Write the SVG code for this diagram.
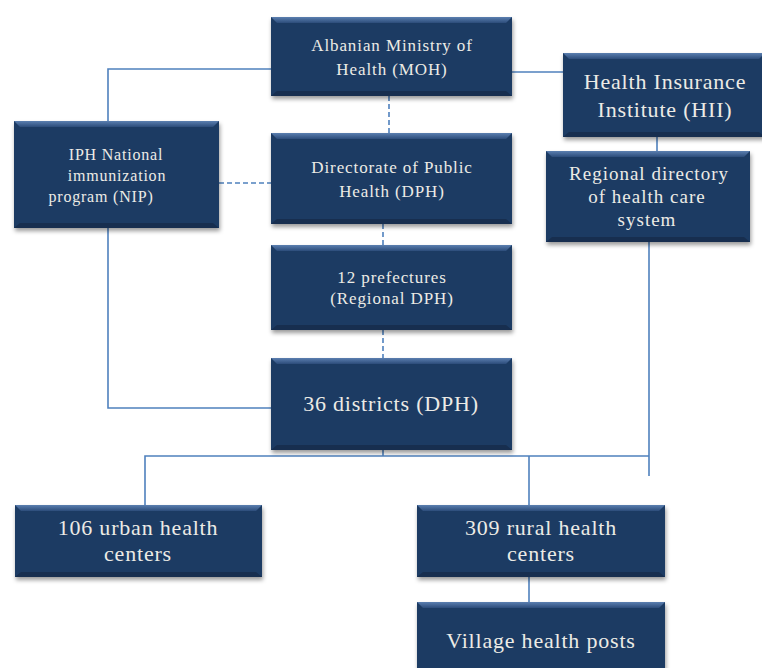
<svg xmlns="http://www.w3.org/2000/svg" width="762" height="668" viewBox="0 0 762 668">
<defs>
<filter id="sh" x="-10%" y="-10%" width="125%" height="130%">
<feDropShadow dx="1" dy="3" stdDeviation="2" flood-color="#000" flood-opacity="0.4"/>
</filter>
<linearGradient id="top" x1="0" y1="0" x2="0" y2="1">
<stop offset="0" stop-color="#5b7fb0"/>
<stop offset="1" stop-color="#2c4c7a"/>
</linearGradient>
</defs>
<style>
.box{fill:#1f3b63;filter:url(#sh)}
.bt{fill:url(#top)}
.bb{fill:#172e4f}
text{font-family:"Liberation Serif","DejaVu Serif",serif;fill:#ecebe6;text-anchor:middle}
.s15{font-size:17px;letter-spacing:0.9px}
.s16{font-size:16px;letter-spacing:0.8px}
.s18{font-size:19px;letter-spacing:1px}
.s20{font-size:22px;letter-spacing:0.8px}
.c{stroke:#4f81bd;stroke-width:1.6;fill:none}
.d{stroke:#4f81bd;stroke-width:1.6;fill:none;stroke-dasharray:5 3}
</style>
<g id="connectors">
<polyline class="c" points="271,69 108,69 108,121"/>
<line class="c" x1="512" y1="72" x2="563" y2="72"/>
<line class="d" x1="389" y1="96" x2="389" y2="133"/>
<line class="d" x1="219" y1="183" x2="271" y2="183"/>
<line class="d" x1="383" y1="224" x2="383" y2="245"/>
<line class="d" x1="383" y1="330" x2="383" y2="358"/>
<polyline class="c" points="108,228 108,408 271,408"/>
<line class="c" x1="657" y1="137" x2="657" y2="151"/>
<line class="c" x1="649" y1="242" x2="649" y2="476"/>
<line class="c" x1="383" y1="450" x2="383" y2="456"/>
<polyline class="c" points="145,505 145,456 649,456"/>
<line class="c" x1="529" y1="456" x2="529" y2="505"/>
<line class="c" x1="529" y1="577" x2="529" y2="602"/>
</g>
<g id="moh">
<rect class="box" x="271" y="17" width="241" height="79"/>
<polygon class="bt" points="271,17 512,17 506,23 277,23"/>
<polygon class="bb" points="271,96 512,96 506,91 277,91"/>
<text class="s15" x="392" y="51">Albanian Ministry of</text>
<text class="s15" x="392" y="75">Health (MOH)</text>
</g>
<g id="hii">
<rect class="box" x="563" y="53" width="202" height="84"/>
<polygon class="bt" points="563,53 765,53 759,59 569,59"/>
<polygon class="bb" points="563,137 765,137 759,132 569,132"/>
<text class="s20" x="665" y="89">Health Insurance</text>
<text class="s20" x="665" y="117">Institute (HII)</text>
</g>
<g id="nip">
<rect class="box" x="14" y="121" width="205" height="107"/>
<polygon class="bt" points="14,121 219,121 213,127 20,127"/>
<polygon class="bb" points="14,228 219,228 213,223 20,223"/>
<text class="s16" x="116" y="160">IPH National</text>
<text class="s16" x="117" y="181">immunization</text>
<text class="s16" x="101" y="202">program (NIP)</text>
</g>
<g id="dph">
<rect class="box" x="271" y="133" width="241" height="91"/>
<polygon class="bt" points="271,133 512,133 506,139 277,139"/>
<polygon class="bb" points="271,224 512,224 506,219 277,219"/>
<text class="s15" x="392" y="173">Directorate of Public</text>
<text class="s15" x="392" y="197">Health (DPH)</text>
</g>
<g id="regional">
<rect class="box" x="546" y="151" width="204" height="91"/>
<polygon class="bt" points="546,151 750,151 744,157 552,157"/>
<polygon class="bb" points="546,242 750,242 744,237 552,237"/>
<text class="s18" x="649" y="180">Regional directory</text>
<text class="s18" x="647" y="203">of health care</text>
<text class="s18" x="647" y="226">system</text>
</g>
<g id="prefectures">
<rect class="box" x="271" y="245" width="241" height="85"/>
<polygon class="bt" points="271,245 512,245 506,251 277,251"/>
<polygon class="bb" points="271,330 512,330 506,325 277,325"/>
<text class="s15" x="392" y="283">12 prefectures</text>
<text class="s15" x="392" y="304">(Regional DPH)</text>
</g>
<g id="districts">
<rect class="box" x="271" y="358" width="241" height="92"/>
<polygon class="bt" points="271,358 512,358 506,364 277,364"/>
<polygon class="bb" points="271,450 512,450 506,445 277,445"/>
<text class="s20" x="391" y="411">36 districts (DPH)</text>
</g>
<g id="urban">
<rect class="box" x="15" y="505" width="247" height="72"/>
<polygon class="bt" points="15,505 262,505 256,511 21,511"/>
<polygon class="bb" points="15,577 262,577 256,572 21,572"/>
<text class="s20" x="138" y="535">106 urban health</text>
<text class="s20" x="138" y="561">centers</text>
</g>
<g id="rural">
<rect class="box" x="417" y="505" width="248" height="72"/>
<polygon class="bt" points="417,505 665,505 659,511 423,511"/>
<polygon class="bb" points="417,577 665,577 659,572 423,572"/>
<text class="s20" x="541" y="535">309 rural health</text>
<text class="s20" x="541" y="561">centers</text>
</g>
<g id="village">
<rect class="box" x="417" y="602" width="248" height="72"/>
<polygon class="bt" points="417,602 665,602 659,608 423,608"/>
<text class="s20" x="541" y="648">Village health posts</text>
</g>
</svg>
